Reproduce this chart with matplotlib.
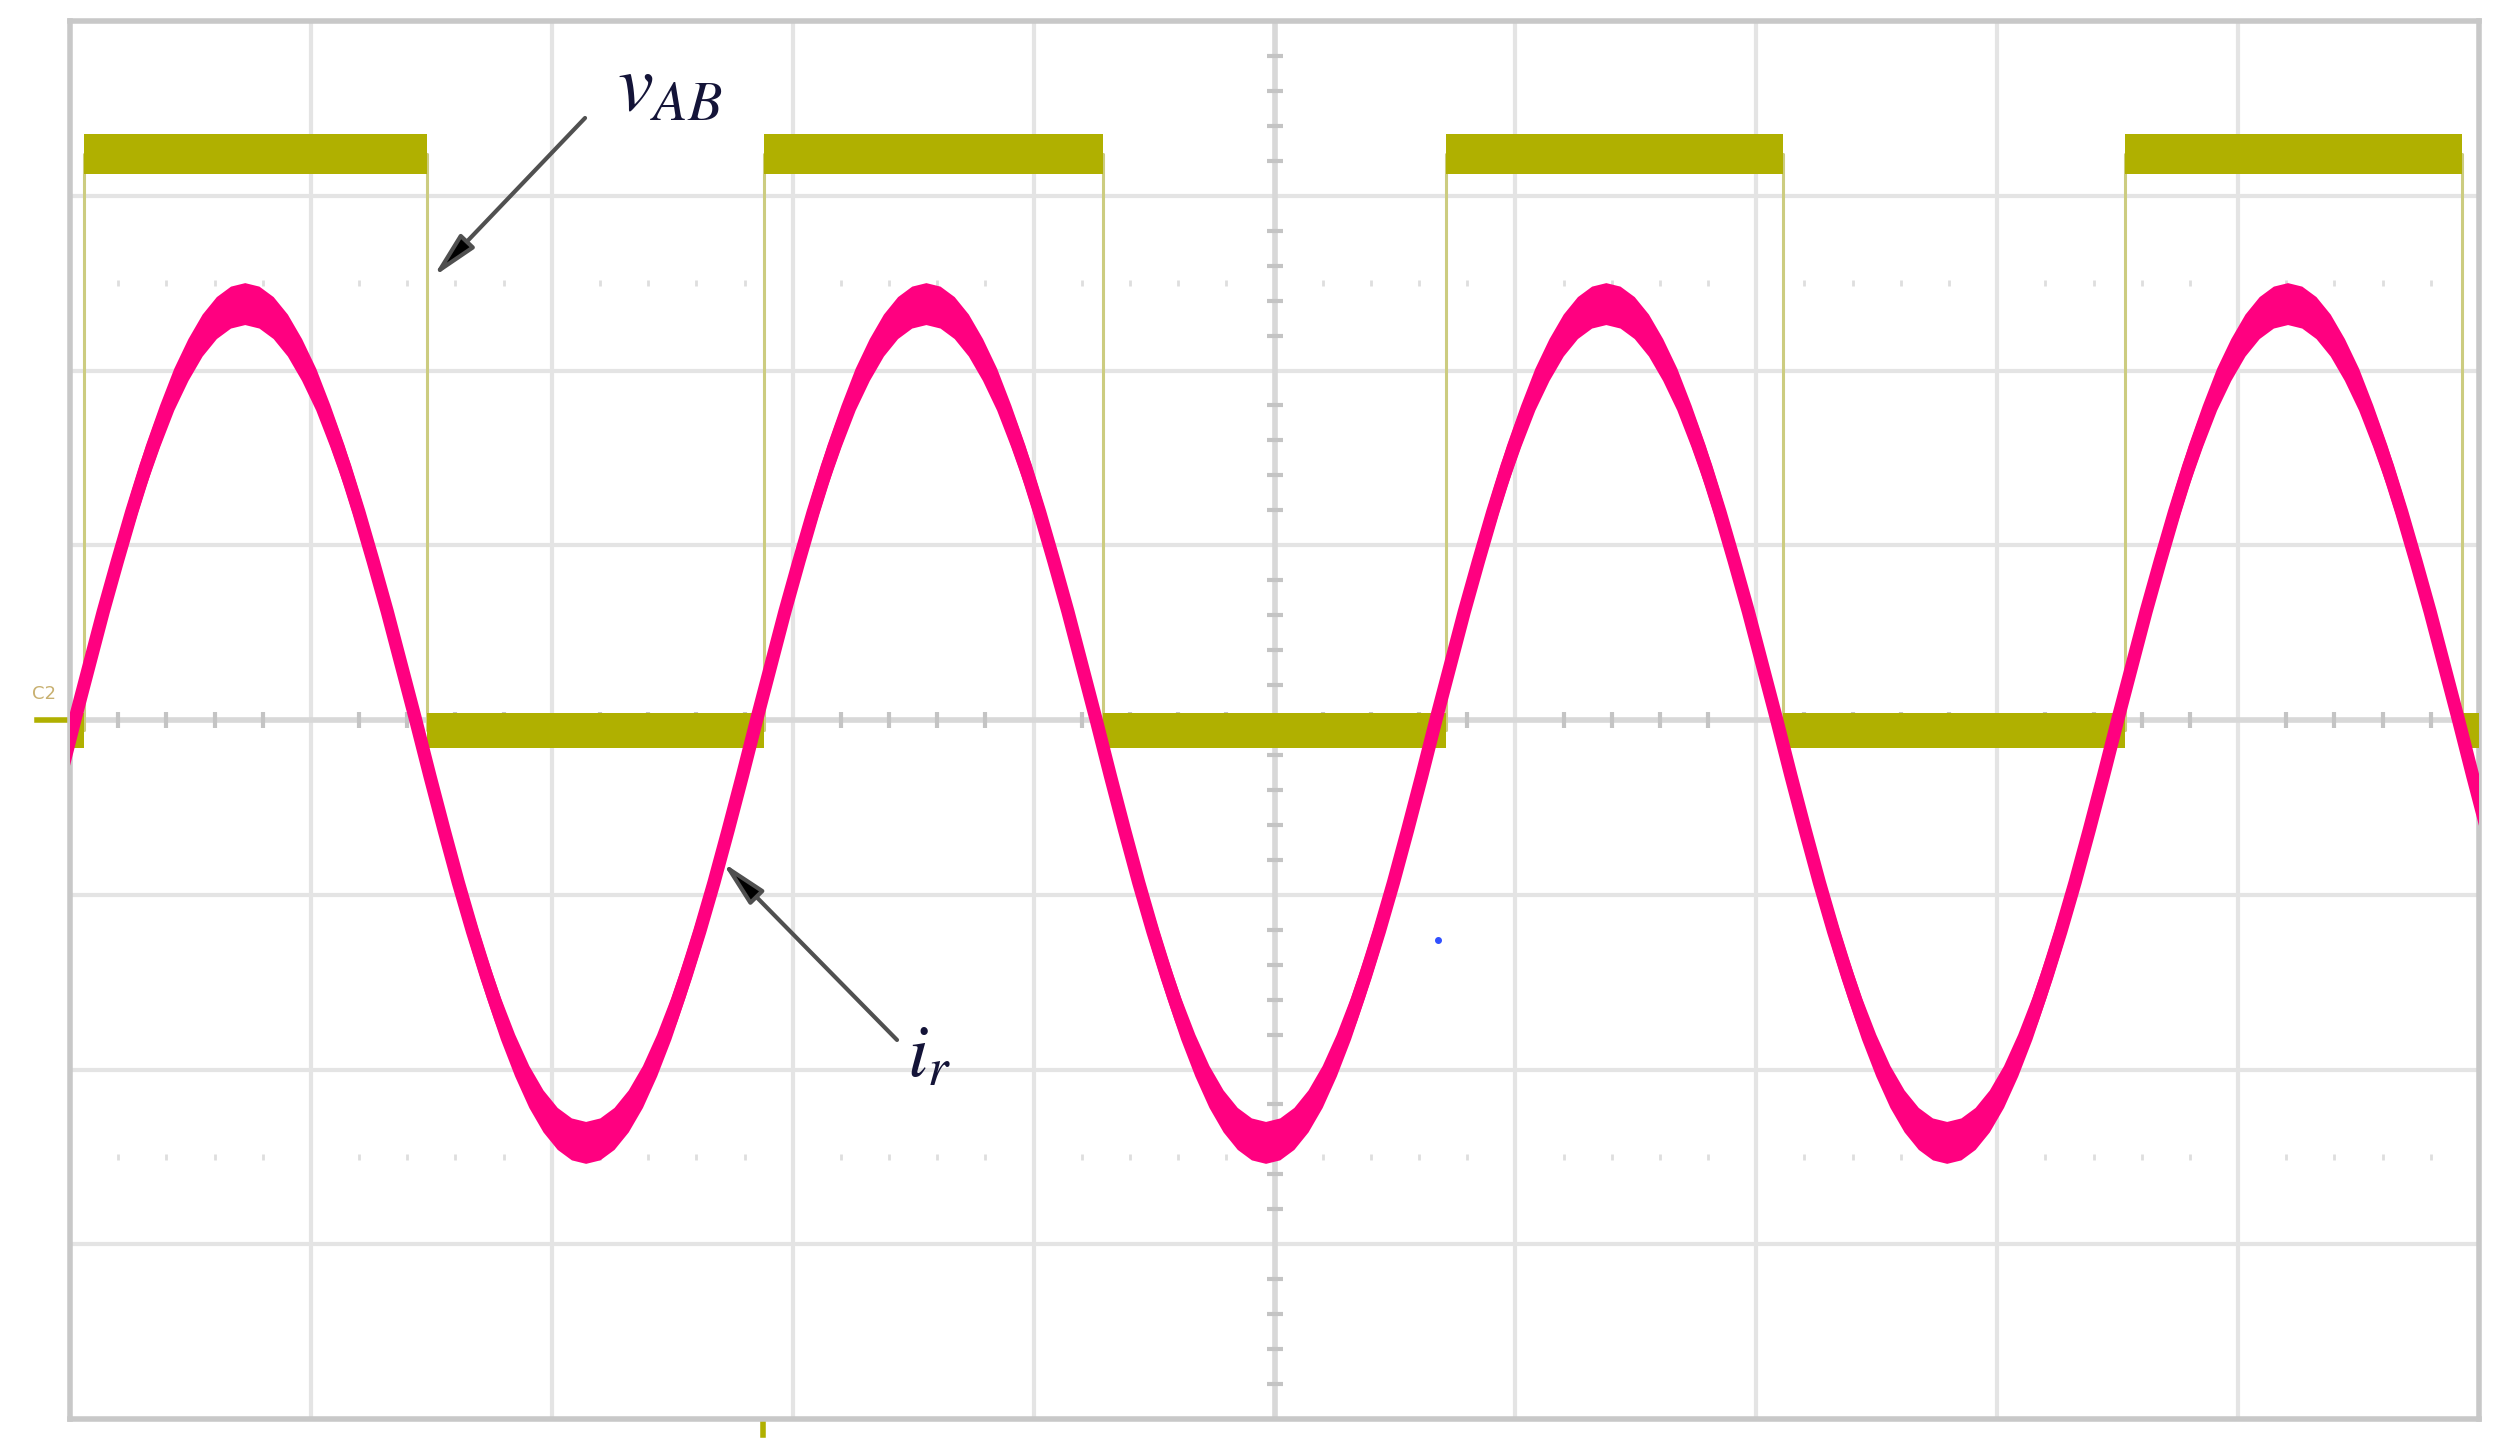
import numpy as np
import matplotlib.pyplot as plt

plt.rcParams['mathtext.fontset'] = 'stix'

# v_AB square wave, in scope divisions
rise_t = [0.06, 2.88, 5.71, 8.53]
fall_t = [1.48, 4.29, 7.11, 9.93]
v_high = 3.24
v_low = -0.06

# i_r: rising zero crossings and one cycle (49 samples)
i_zero = [-2.81, 0.02, 2.85, 5.67, 8.50, 11.33]
i_cycle = [0.00, 0.31, 0.62, 0.91, 1.19, 1.45, 1.68, 1.89, 2.06, 2.20, 2.30,
           2.36, 2.38, 2.36, 2.30, 2.20, 2.06, 1.89, 1.68, 1.45, 1.19, 0.91,
           0.62, 0.31, 0.00, -0.32, -0.63, -0.93, -1.21, -1.47, -1.71, -1.92,
           -2.10, -2.24, -2.34, -2.40, -2.42, -2.40, -2.34, -2.24, -2.10,
           -1.92, -1.71, -1.47, -1.21, -0.93, -0.63, -0.32, 0.00]

olive = '#b0b000'
pink = '#ff0080'
grid_c = '#e4e4e4'

# step line for v_AB
sq_x = [0.0]
sq_y = [v_low]
for r, f in zip(rise_t, fall_t):
    sq_x += [r, r, f, f]
    sq_y += [v_low, v_high, v_high, v_low]
sq_x.append(10.0)
sq_y.append(v_low)

# i_r trace, cycle by cycle
ix, iy = [], []
n = len(i_cycle) - 1
for a, b in zip(i_zero[:-1], i_zero[1:]):
    ix += [a + (b - a) * k / n for k in range(n + 1)]
    iy += i_cycle
ix = np.array(ix)
iy = np.array(iy)

fig = plt.figure(figsize=(25.06, 14.48), dpi=100)
ax = fig.add_axes([70 / 2506, 29 / 1448, 2409 / 2506, 1398 / 1448])
ax.set_xlim(0, 10)
ax.set_ylim(-4, 4)
ax.set_xticks([])
ax.set_yticks([])
for s in ax.spines.values():
    s.set_color('#c8c8c8')
    s.set_linewidth(4)

# graticule
for k in range(1, 10):
    ax.axvline(k, color=grid_c, lw=3, zorder=0)
for k in range(-3, 4):
    ax.axhline(k, color=grid_c, lw=3, zorder=0)
ax.axvline(5, color='#d8d8d8', lw=4, zorder=0)
ax.axhline(0, color='#d8d8d8', lw=4, zorder=0)
xm = [v for v in np.arange(0.2, 10, 0.2) if abs(v - round(v)) > 0.05]
ym = [v for v in np.arange(-3.8, 4, 0.2) if abs(v - round(v)) > 0.05]
ax.plot(xm, [0] * len(xm), ls='none', marker='|', ms=11, mew=3, color='#c4c4c4', zorder=1)
ax.plot([5] * len(ym), ym, ls='none', marker='_', ms=11, mew=3, color='#c4c4c4', zorder=1)
for yy in (2.5, -2.5):
    ax.plot(xm, [yy] * len(xm), ls='none', marker='|', ms=5, mew=2, color='#dedede', zorder=1)

# v_AB
ax.plot(sq_x, sq_y, color='#cccc80', lw=2.2, zorder=3)
for r, f in zip(rise_t, fall_t):
    ax.fill_between([r, f], v_high - 0.115, v_high + 0.115, color=olive, lw=0, zorder=4)
for a, b in zip([0.0] + fall_t, rise_t + [10.0]):
    ax.fill_between([a, b], v_low - 0.1, v_low + 0.1, color=olive, lw=0, zorder=4)

# i_r
ax.fill_between(ix, iy - 0.12, iy + 0.12, color=pink, lw=0, zorder=5)
ax.plot(ix, iy, color=pink, lw=9.5, solid_joinstyle='round', zorder=6)

# labels and arrows
arrow = dict(arrowstyle='-|>,head_length=1.4,head_width=0.3', mutation_scale=20,
             ec='#505050', fc='black', lw=3, shrinkA=0, shrinkB=0)
ax.annotate('', xy=(1.507, 2.535), xytext=(2.138, 3.445), arrowprops=arrow, zorder=8)
ax.annotate('', xy=(2.707, -0.813), xytext=(3.433, -1.831), arrowprops=arrow, zorder=8)
ax.text(2.27, 3.49, r'$v_{AB}$', fontsize=58, color='#141438', ha='left', va='baseline', zorder=9)
ax.text(3.474, -2.04, r'$i_r$', fontsize=54, color='#141438', ha='left', va='baseline', zorder=9)

# scope markers
ax.plot([5.68], [-1.26], 'o', ms=4, color='#3050ff', zorder=7)
ax.plot([-0.137, 0.0], [0, 0], color=olive, lw=4, clip_on=False)
ax.plot([2.877, 2.877], [-4.02, -4.09], color=olive, lw=4, clip_on=False)
fig.text(32 / 2506, 1 - 694 / 1448, 'C2', fontsize=13, color='#c8b070', va='center', ha='left')

fig.savefig('out.png', dpi=100)
